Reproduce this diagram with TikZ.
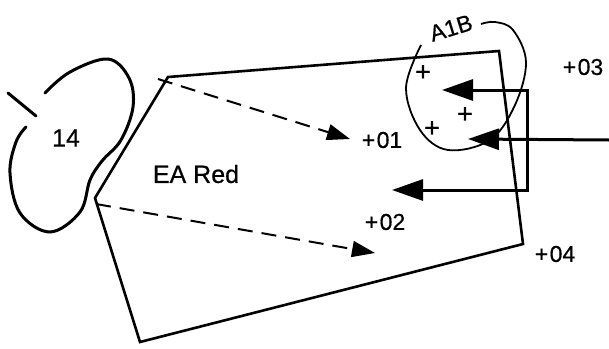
\documentclass[tikz,border=0pt]{standalone}
\usepackage{fontspec}
\setmainfont{Liberation Sans}
\newfontfamily\lblfont{Liberation Sans}[FakeBold=0.6]
\usetikzlibrary{arrows.meta}
\tikzset{
  lbl/.style={inner sep=0pt, font=\lblfont\fontsize{23}{26}\selectfont},
  biglbl/.style={inner sep=0pt, font=\lblfont\fontsize{25}{28}\selectfont},
  plusmark/.style={inner sep=0pt, font=\lblfont\fontsize{27}{30}\selectfont},
  edge/.style={line width=2.6pt, line join=miter},
  dasharrow/.style={line width=2pt, dash pattern=on 15pt off 9pt, -{Triangle[length=23pt,width=16pt]}},
  bigtip/.tip={Triangle[length=31pt,width=21pt]},
  bigarrow/.style={line width=3pt, line join=miter},
  curvel/.style={line width=1.8pt},
  blob/.style={line width=3pt, line cap=round},
}
\newcommand{\plab}[1]{+\kern1.5pt#1}
\begin{document}
\begin{tikzpicture}[x=1pt,y=-1pt]
\useasboundingbox (0,0) rectangle (609,348);
% region polygon
\coordinate (tl) at (168,77);
\coordinate (tr) at (499,51);
\coordinate (br) at (523,244);
\coordinate (bl) at (140,342);
\coordinate (lv) at (95,198);
\draw[edge] (tl) -- (tr) -- (br) -- (bl) -- (lv) -- cycle;
% blob 14
\draw[blob] plot[smooth, tension=0.6] coordinates {(45,93) (70,72) (108,59) (129,78) (133,107) (121,140) (102,161) (90,180) (80,212) (50,232) (20,213) (10,173) (16,142) (26,127)};
\coordinate (t1) at (8,93);
\coordinate (t2) at (36,116);
\draw[blob] (t1) -- (t2);
% A1B curve
\draw[curvel] plot[smooth, tension=0.6] coordinates {(421,45) (406,88) (420,130) (448,150) (490,140) (515,105) (526,62) (513,30) (495,22) (481,24)};
% labels
\node[biglbl] (n14) at (66,138) {14};
\node[biglbl] (ea) at (196,174) {EA Red};
\node[lbl] (p01) at (382,140) {\plab{01}};
\node[lbl] (p02) at (385,222) {\plab{02}};
\node[lbl] (p03) at (583,67) {\plab{03}};
\node[lbl] (p04) at (555,254) {\plab{04}};
\node[lbl, rotate=17] (a1b) at (451,28) {A1B};
% plus marks
\node[plusmark] (c1) at (423,73) {+};
\node[plusmark] (c2) at (465,115) {+};
\node[plusmark] (c3) at (432,129) {+};
% dashed arrows
\coordinate (d1s) at (158,79);
\coordinate (d1e) at (350,139);
\coordinate (d2s) at (96,204);
\coordinate (d2e) at (375,253);
\draw[dasharrow] (d1s) -- (d1e);
\draw[dasharrow] (d2s) -- (d2e);
% thick arrows
\coordinate (a1) at (442,90);
\coordinate (k1) at (527,90);
\coordinate (k2) at (527,190);
\coordinate (a2) at (392,190);
\draw[bigarrow, {bigtip}-{bigtip}] (a1) -- (k1) -- (k2) -- (a2);
\coordinate (rs) at (609,140);
\coordinate (re) at (468,139);
\draw[bigarrow, {bigtip}-] (re) -- (rs);
\end{tikzpicture}
\end{document}
